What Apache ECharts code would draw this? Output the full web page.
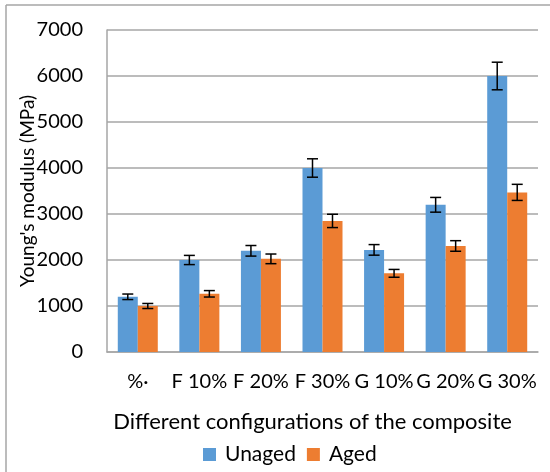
<!DOCTYPE html>
<html>
<head>
<meta charset="utf-8">
<script src="https://cdn.jsdelivr.net/npm/echarts@6/dist/echarts.min.js"></script>
<style>html,body{margin:0;padding:0;background:#fff}#c{width:550px;height:472px}</style>
</head>
<body>
<div id="c"></div>
<script>
const categories = ['%·', 'F 10%', 'F 20%', 'F 30%', 'G 10%', 'G 20%', 'G 30%'];
const unaged = [1200, 2000, 2200, 4000, 2220, 3200, 6000];
const unagedErr = [60, 100, 115, 200, 115, 160, 300];
const aged = [1000, 1265, 2025, 2850, 1710, 2305, 3470];
const agedErr = [55, 70, 105, 145, 85, 115, 175];
const yTicks = [0, 1000, 2000, 3000, 4000, 5000, 6000, 7000];

const FONT = 'Lato';
const chart = echarts.init(document.getElementById('c'), null, {renderer: 'canvas'});

function errData(vals, errs) {
  return vals.map((v, i) => [i, v - errs[i], v + errs[i]]);
}
function errRender(offset) {
  return function (params, api) {
    const i = api.value(0);
    const lo = api.coord([i, api.value(1)]);
    const hi = api.coord([i, api.value(2)]);
    const x = lo[0] + offset;
    const cap = 5.5;
    const style = {stroke: '#000', lineWidth: 1.5};
    return {
      type: 'group',
      children: [
        {type: 'line', shape: {x1: x, y1: lo[1], x2: x, y2: hi[1]}, style: style},
        {type: 'line', shape: {x1: x - cap, y1: lo[1], x2: x + cap, y2: lo[1]}, style: style},
        {type: 'line', shape: {x1: x - cap, y1: hi[1], x2: x + cap, y2: hi[1]}, style: style}
      ]
    };
  };
}

chart.setOption({
  animation: false,
  textStyle: {fontFamily: FONT},
  grid: {left: 107, top: 30, right: 12, bottom: 120},
  graphic: [
    {type: 'line', shape: {x1: 6, y1: 5, x2: 6, y2: 472}, style: {stroke: '#A6A6A6', lineWidth: 1.5}},
    {type: 'line', shape: {x1: 6, y1: 5, x2: 550, y2: 5}, style: {stroke: '#A6A6A6', lineWidth: 1.5}}
  ],
  legend: {
    bottom: 2,
    left: 198,
    itemWidth: 13,
    itemHeight: 13,
    itemGap: 11,
    icon: 'rect',
    textStyle: {fontSize: 21, color: '#000', fontFamily: FONT, padding: [0, 0, 0, 4]},
    data: ['Unaged', 'Aged']
  },
  xAxis: {
    type: 'category',
    data: categories,
    name: 'Different configurations of the composite',
    nameLocation: 'middle',
    nameGap: 59,
    nameMoveOverlap: false,
    nameTextStyle: {fontSize: 22, color: '#000', fontFamily: FONT, padding: [0, 20, 0, 0]},
    axisLine: {lineStyle: {color: '#A6A6A6', width: 1.5}},
    axisTick: {show: false},
    axisLabel: {fontSize: 20, color: '#000', margin: 20, fontFamily: FONT, interval: 0}
  },
  yAxis: {
    type: 'value',
    min: 0, max: 7000, interval: 1000,
    name: "Young's modulus (MPa)",
    nameLocation: 'middle',
    nameRotate: 90,
    nameGap: 70,
    nameMoveOverlap: false,
    nameTextStyle: {fontSize: 19, color: '#000', fontFamily: FONT},
    axisLine: {show: true, lineStyle: {color: '#A6A6A6', width: 1.5}},
    axisTick: {show: false},
    axisLabel: {fontSize: 20, color: '#000', margin: 24, fontFamily: FONT,
      formatter: v => yTicks.includes(v) ? String(v) : ''},
    splitLine: {lineStyle: {color: '#A6A6A6', width: 1.5}}
  },
  series: [
    {name: 'Unaged', type: 'bar', data: unaged, barWidth: 20, barGap: '0%',
      itemStyle: {color: '#5B9BD5'}},
    {name: 'Aged', type: 'bar', data: aged, barWidth: 20, barGap: '0%',
      itemStyle: {color: '#ED7D31'}},
    {type: 'custom', data: errData(unaged, unagedErr), renderItem: errRender(-10), z: 10,
      encode: {x: 0, y: [1, 2]}},
    {type: 'custom', data: errData(aged, agedErr), renderItem: errRender(10), z: 10,
      encode: {x: 0, y: [1, 2]}}
  ]
});
</script>
</body>
</html>
